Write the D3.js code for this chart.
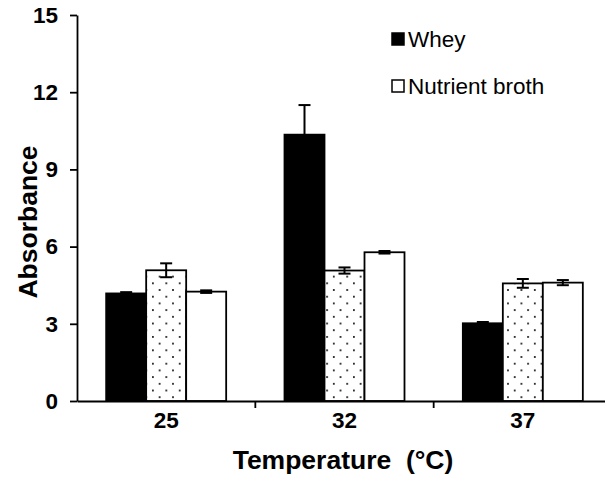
<!DOCTYPE html>
<html>
<head>
<meta charset="utf-8">
<script src="https://cdn.jsdelivr.net/npm/d3@7"></script>
<style>
  html, body { margin: 0; padding: 0; background: #fff; }
  svg { display: block; font-family: "Liberation Sans", Arial, sans-serif; }
</style>
</head>
<body>
<svg id="chart" width="605" height="482"></svg>
<script>
// Growth temperatures (°C)
const temperatures = ["25", "32", "37"];

// Mean absorbance per medium at each temperature
const wheyValues = [4.18, 10.35, 3.02];
const dottedValues = [5.08, 5.07, 4.57];
const brothValues = [4.25, 5.78, 4.60];

// Standard error per bar
const wheyErrors = [0.05, 1.15, 0.05];
const dottedErrors = [0.27, 0.12, 0.17];
const brothErrors = [0.05, 0.05, 0.10];

const yTicks = [0, 3, 6, 9, 12, 15];

const seriesKeys = ["whey", "dotted", "broth"];
const legendItems = [
  { key: "whey", label: "Whey" },
  { key: "broth", label: "Nutrient broth" }
];

const series = [
  { key: "whey", values: wheyValues, errors: wheyErrors },
  { key: "dotted", values: dottedValues, errors: dottedErrors },
  { key: "broth", values: brothValues, errors: brothErrors }
];

const svg = d3.select("#chart");

const plotLeft = 77, plotRight = 612, plotTop = 15, plotBottom = 401;

// Dot-screen fill for the middle bars
const defs = svg.append("defs");
const pat = defs.append("pattern")
  .attr("id", "dots")
  .attr("patternUnits", "userSpaceOnUse")
  .attr("width", 13.4).attr("height", 13.4)
  .attr("x", 152).attr("y", 0);
pat.append("rect").attr("width", 13.4).attr("height", 13.4).attr("fill", "#fff");
pat.append("rect").attr("x", 0).attr("y", 1).attr("width", 1.8).attr("height", 1.8).attr("fill", "#222");
pat.append("rect").attr("x", 6.7).attr("y", 7.7).attr("width", 1.8).attr("height", 1.8).attr("fill", "#222");

const fills = { whey: "#000", dotted: "url(#dots)", broth: "#fff" };

const x = d3.scaleBand().domain(temperatures).range([plotLeft, plotRight]);
const groupWidth = 120;
const xs = d3.scaleBand().domain(seriesKeys)
  .range([(x.bandwidth() - groupWidth) / 2, (x.bandwidth() + groupWidth) / 2]);
const y = d3.scaleLinear().domain([0, 15]).range([plotBottom, plotTop]);

// Bars
const groups = svg.append("g").selectAll("g")
  .data(series)
  .join("g");

groups.selectAll("rect")
  .data(s => s.values.map((v, i) => ({ key: s.key, t: temperatures[i], v, e: s.errors[i] })))
  .join("rect")
  .attr("x", d => x(d.t) + xs(d.key))
  .attr("y", d => y(d.v))
  .attr("width", xs.bandwidth())
  .attr("height", d => y(0) - y(d.v))
  .attr("fill", d => fills[d.key])
  .attr("stroke", "#000")
  .attr("stroke-width", 1.8);

// Error bars
const errData = series.flatMap(s => s.values.map((v, i) => ({ key: s.key, t: temperatures[i], v, e: s.errors[i] })));
const eb = svg.append("g").attr("stroke", "#000").attr("stroke-width", 2).attr("fill", "none");
const cx = d => x(d.t) + xs(d.key) + xs.bandwidth() / 2;
eb.selectAll("line.stem").data(errData).join("line")
  .attr("class", "stem")
  .attr("x1", cx).attr("x2", cx)
  .attr("y1", d => y(d.v - d.e)).attr("y2", d => y(d.v + d.e));
eb.selectAll("line.capTop").data(errData).join("line")
  .attr("class", "capTop")
  .attr("x1", d => cx(d) - 6).attr("x2", d => cx(d) + 6)
  .attr("y1", d => y(d.v + d.e)).attr("y2", d => y(d.v + d.e));
eb.selectAll("line.capBot").data(errData).join("line")
  .attr("class", "capBot")
  .attr("x1", d => cx(d) - 6).attr("x2", d => cx(d) + 6)
  .attr("y1", d => y(d.v - d.e)).attr("y2", d => y(d.v - d.e));

// Y axis
const yAxis = svg.append("g")
  .attr("transform", `translate(${plotLeft},0)`)
  .call(d3.axisLeft(y).tickValues(yTicks).tickSize(7).tickPadding(12).tickSizeOuter(0));
yAxis.select(".domain").attr("stroke", "#000").attr("stroke-width", 1.8);
yAxis.selectAll(".tick line").attr("stroke", "#000").attr("stroke-width", 1.8);
yAxis.selectAll("text")
  .attr("font-size", 22.5).attr("font-weight", "bold").attr("fill", "#000")
  .attr("font-family", "Liberation Sans, Arial, sans-serif");

// X axis: labels centred, tick marks on the category boundaries
const xAxis = svg.append("g")
  .attr("transform", `translate(0,${plotBottom})`)
  .call(d3.axisBottom(x).tickSize(0).tickPadding(11).tickSizeOuter(0));
xAxis.select(".domain").attr("stroke", "#000").attr("stroke-width", 1.8);
xAxis.selectAll("text")
  .attr("font-size", 22.5).attr("font-weight", "bold").attr("fill", "#000")
  .attr("font-family", "Liberation Sans, Arial, sans-serif");
xAxis.selectAll("line.boundary")
  .data(temperatures.slice(1))
  .join("line")
  .attr("class", "boundary")
  .attr("x1", d => x(d)).attr("x2", d => x(d))
  .attr("y1", 0).attr("y2", 7)
  .attr("stroke", "#000").attr("stroke-width", 1.8);

// Axis titles
svg.append("text")
  .attr("transform", "translate(37,222) rotate(-90)")
  .attr("text-anchor", "middle")
  .attr("font-size", 26.5).attr("font-weight", "bold")
  .text("Absorbance");
svg.append("text")
  .attr("x", 343).attr("y", 469)
  .attr("text-anchor", "middle")
  .attr("font-size", 26.5).attr("font-weight", "bold")
  .attr("xml:space", "preserve")
  .text("Temperature  (°C)");

// Legend
const lg = svg.append("g").attr("transform", "translate(392,33)");
const li = lg.selectAll("g").data(legendItems).join("g")
  .attr("transform", (d, i) => `translate(0,${i * 47})`);
li.append("rect")
  .attr("width", 12).attr("height", 12)
  .attr("fill", d => fills[d.key])
  .attr("stroke", "#000").attr("stroke-width", 1.5);
li.append("text")
  .attr("x", 16).attr("y", 14)
  .attr("font-size", 22.5)
  .text(d => d.label);
</script>
</body>
</html>
